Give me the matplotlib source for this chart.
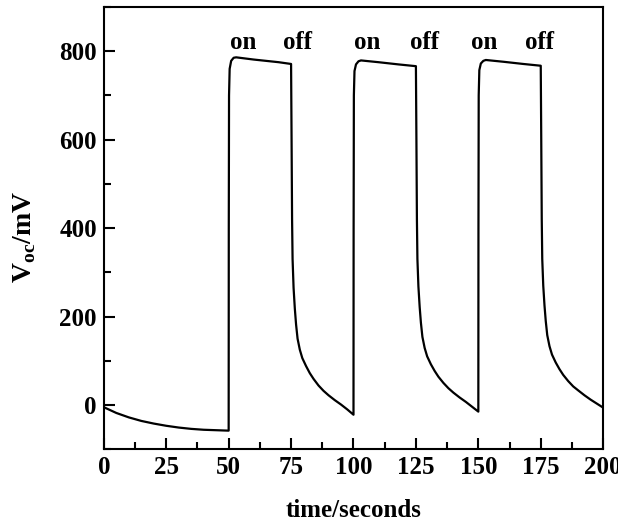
import matplotlib
matplotlib.use("Agg")
import matplotlib.pyplot as plt
from matplotlib.ticker import MultipleLocator

plt.rcParams['font.family'] = 'Liberation Serif'
plt.rcParams['font.weight'] = 'bold'
plt.rcParams['mathtext.fontset'] = 'custom'
plt.rcParams['mathtext.rm'] = 'Liberation Serif:bold'
plt.rcParams['mathtext.bf'] = 'Liberation Serif:bold'

# photovoltage transient
time = [0, 5, 10, 15, 20, 25, 30, 35, 40, 45, 50,
        50.05, 50.15, 50.4, 51, 52, 53, 60, 70, 75,
        75.2, 75.4, 75.6, 76.0, 76.5, 77, 77.6, 78.5, 79.5, 81, 82.5, 84, 86, 88, 90, 92.5, 95, 97.5, 100,
        100.05, 100.15, 100.4, 101, 102, 103, 110, 118, 125,
        125.2, 125.4, 125.6, 126.0, 126.5, 127, 127.6, 128.5, 129.5, 131, 132.5, 134, 136, 138, 140, 142.5, 145, 147.5, 150,
        150.05, 150.15, 150.4, 151, 152, 153, 160, 168, 175,
        175.2, 175.4, 175.6, 176.0, 176.5, 177, 177.6, 178.5, 179.5, 181, 182.5, 184, 186, 188, 190, 192.5, 195, 197.5, 200]
voc = [-5, -18, -28, -36, -42, -47, -51, -54, -56, -57, -58,
       400, 700, 760, 778, 785, 786, 781, 775, 771,
       600, 420, 330, 265, 218, 182, 150, 125, 106, 88, 72, 59, 44, 32, 22, 11, 1, -10, -22,
       400, 700, 755, 770, 777, 779, 775, 770, 766,
       600, 420, 330, 268, 222, 186, 154, 129, 110, 92, 77, 64, 50, 38, 28, 17, 7, -4, -15,
       400, 700, 757, 772, 778, 780, 776, 771, 767,
       600, 420, 330, 270, 225, 190, 158, 133, 114, 96, 81, 68, 54, 42, 33, 22, 12, 3, -6]

labels = ['on', 'off', 'on', 'off', 'on', 'off']
label_x = [56, 77.5, 105.5, 128.5, 152.5, 174.5]
label_y = 820

fig = plt.figure(figsize=(6.18, 5.31), dpi=100)
ax = fig.add_axes([0.168, 0.154, 0.808, 0.833])

ax.plot(time, voc, color='black', linewidth=1.6)

for lab, lx in zip(labels, label_x):
    ax.text(lx, label_y, lab, ha='center', va='center', fontsize=18, fontweight='bold')

ax.set_xlim(0, 200)
ax.set_ylim(-100, 900)
ax.xaxis.set_major_locator(MultipleLocator(25))
ax.xaxis.set_minor_locator(MultipleLocator(12.5))
ax.yaxis.set_major_locator(MultipleLocator(200))
ax.yaxis.set_minor_locator(MultipleLocator(100))
ax.set_yticks([0, 200, 400, 600, 800])
ax.tick_params(which='major', direction='in', length=8, width=1.5, labelsize=18, pad=5)
ax.tick_params(which='minor', direction='in', length=5, width=1.5)
for sp in ax.spines.values():
    sp.set_linewidth(1.5)

ax.set_xlabel('time/seconds', fontsize=18, fontweight='bold', labelpad=14)
ax.set_ylabel(r'V$_{\mathrm{oc}}$/mV', fontsize=20, fontweight='bold')
ax.yaxis.set_label_coords(-0.132, 0.48)

fig.savefig('out.png', dpi=100)
